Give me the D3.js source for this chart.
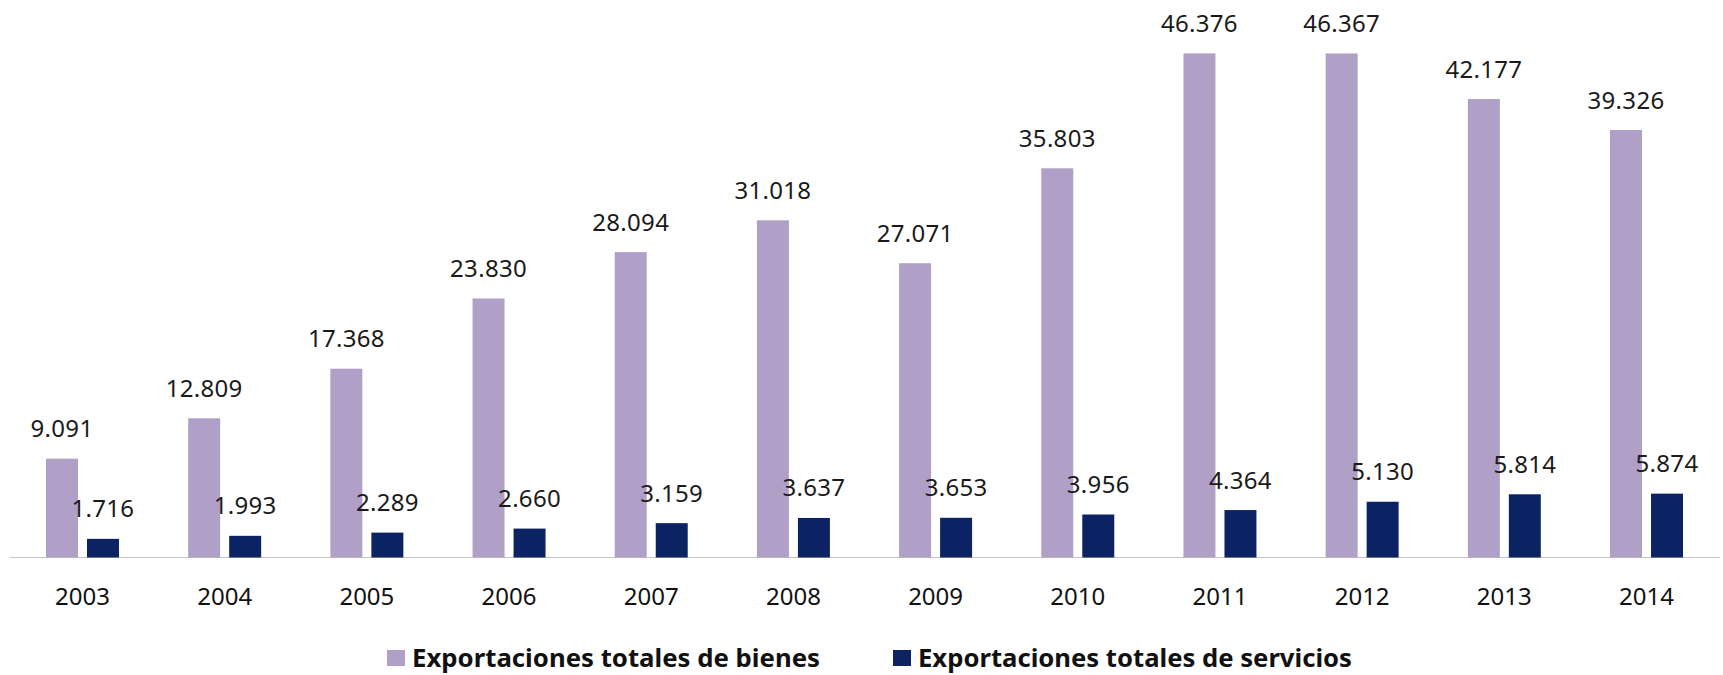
<!DOCTYPE html>
<html>
<head>
<meta charset="utf-8">
<script src="https://cdn.jsdelivr.net/npm/d3@7"></script>
<style>
  html, body { margin: 0; padding: 0; background: #fff; }
  svg { display: block; }
</style>
</head>
<body>
<svg id="chart" width="1723" height="675"></svg>
<script>
const years = ["2003","2004","2005","2006","2007","2008","2009","2010","2011","2012","2013","2014"];
const bienes = [9.091, 12.809, 17.368, 23.830, 28.094, 31.018, 27.071, 35.803, 46.376, 46.367, 42.177, 39.326];
const servicios = [1.716, 1.993, 2.289, 2.660, 3.159, 3.637, 3.653, 3.956, 4.364, 5.130, 5.814, 5.874];
const seriesNames = ["Exportaciones totales de bienes", "Exportaciones totales de servicios"];
const seriesColors = ["#b09fc6", "#0c2363"];

const seriesValues = [bienes, servicios];
const svg = d3.select("#chart");

const baseY = 557.5;
const y = d3.scaleLinear().domain([0, 50]).range([baseY, baseY - 543.5]);
const x0 = d3.scaleBand().domain(years).range([11.4, 1717.6]).padding(0);
const x1 = d3.scaleBand().domain([0, 1]).range([0, x0.bandwidth()])
  .paddingInner(0.22).paddingOuter(0.844);

const fmt = d3.format(".3f");

// axis
const axis = d3.axisBottom(x0).tickSize(0).tickPadding(30);
const gAxis = svg.append("g").attr("transform", `translate(0,${baseY})`).call(axis);
gAxis.select(".domain").attr("stroke", "#c4c4c4").attr("stroke-width", 1.2)
  .attr("d", "M10,0H1720");
gAxis.selectAll("text")
  .attr("font-family", "'Noto Sans', sans-serif")
  .attr("font-size", 24)
  .attr("fill", "#111");

// bars
seriesValues.forEach((vals, si) => {
  svg.append("g").selectAll("rect")
    .data(vals)
    .join("rect")
    .attr("x", (d, i) => x0(years[i]) + x1(si))
    .attr("width", x1.bandwidth())
    .attr("y", d => y(d))
    .attr("height", d => baseY - y(d))
    .attr("fill", seriesColors[si]);
});

// value labels
seriesValues.forEach((vals, si) => {
  svg.append("g").selectAll("text")
    .data(vals)
    .join("text")
    .attr("x", (d, i) => x0(years[i]) + x1(si) + x1.bandwidth() / 2)
    .attr("y", d => y(d) - 21.5)
    .attr("text-anchor", "middle")
    .attr("font-family", "'Noto Sans', sans-serif")
    .attr("font-size", 24)
    .attr("letter-spacing", "0.3px")
    .attr("fill", "#1a1a1a")
    .text(d => fmt(d));
});

// legend
const legendItems = [
  { sx: 387, tx: 412, len: 408 },
  { sx: 893, tx: 918, len: 434 }
];
legendItems.forEach((it, i) => {
  svg.append("rect")
    .attr("x", it.sx).attr("y", 650).attr("width", 18).attr("height", 16)
    .attr("fill", seriesColors[i]);
  svg.append("text")
    .attr("x", it.tx).attr("y", 667)
    .attr("font-family", "'Noto Sans', sans-serif")
    .attr("font-weight", "bold")
    .attr("font-size", 25)
    .attr("fill", "#111")
    .attr("textLength", it.len)
    .attr("lengthAdjust", "spacingAndGlyphs")
    .text(seriesNames[i]);
});
</script>
</body>
</html>
